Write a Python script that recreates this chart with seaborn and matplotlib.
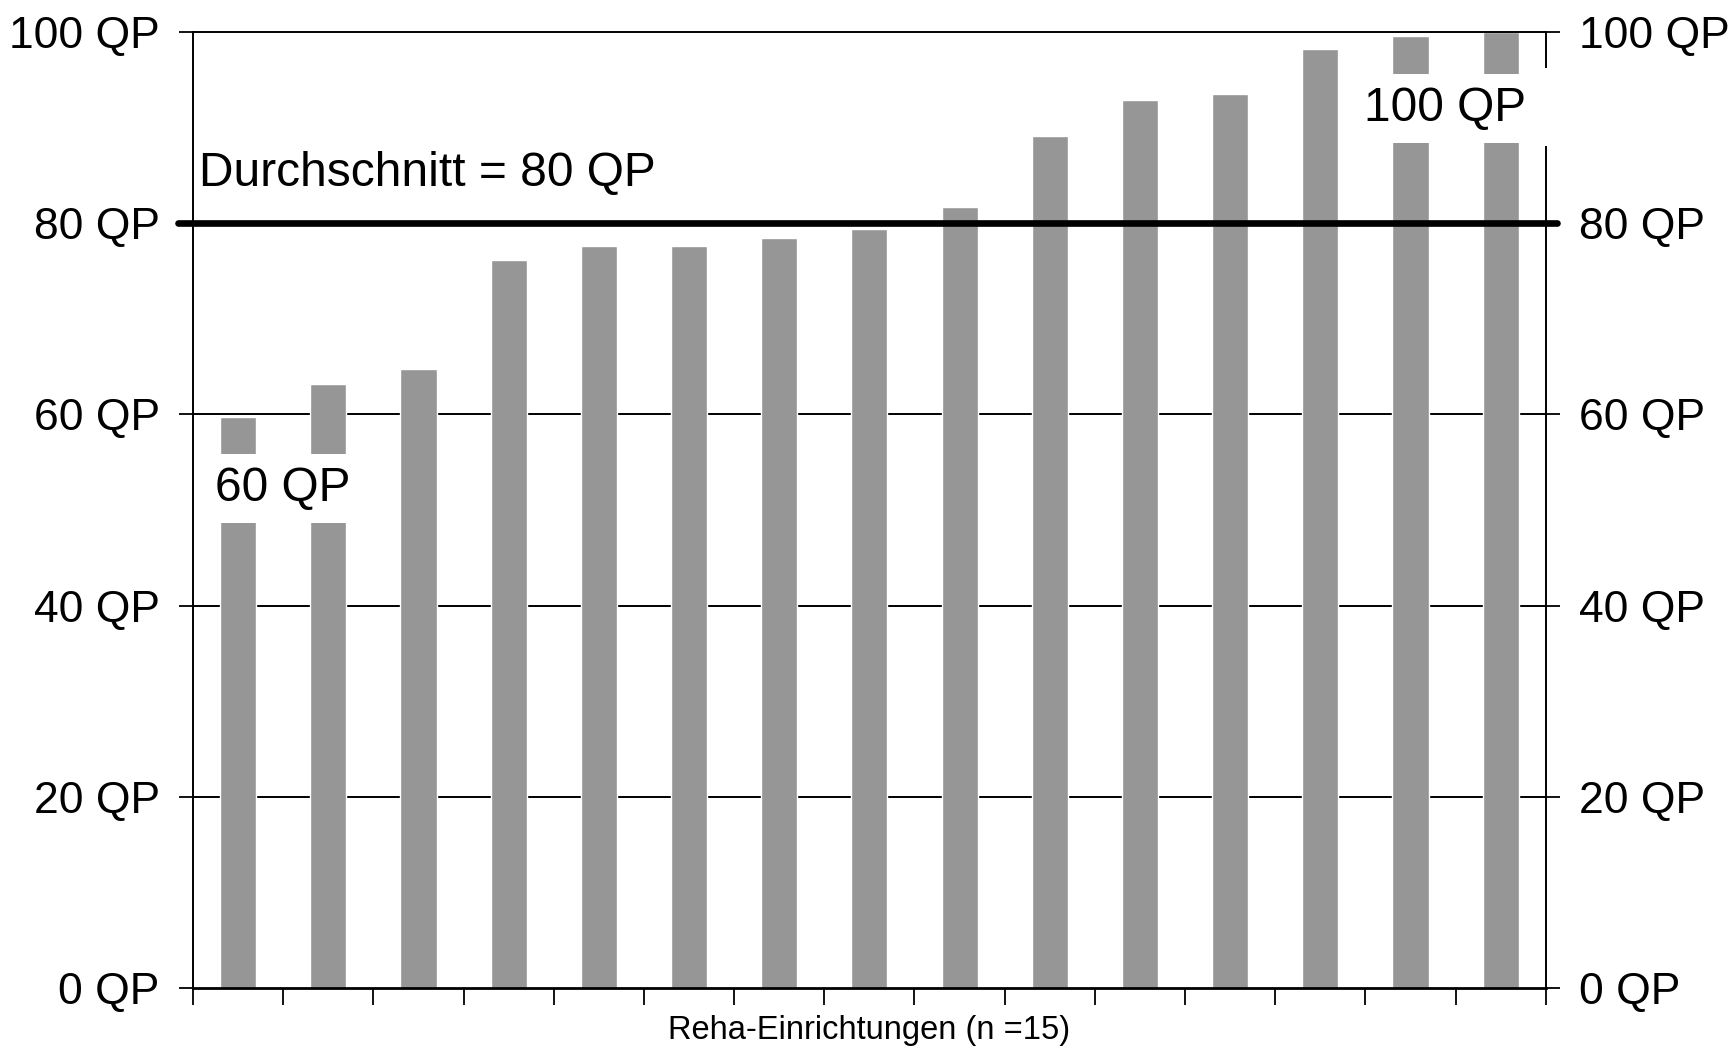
import numpy as np
import pandas as pd
import matplotlib
matplotlib.use('Agg')
import matplotlib.pyplot as plt
import matplotlib.transforms as mtransforms
import matplotlib.patches as mpatches
import seaborn as sns

# ── data ─────────────────────────────────────────────────────────
einrichtungen = [str(i) for i in range(1, 16)]
qp_werte = [59.7, 63.2, 64.7, 76.2, 77.6, 77.6, 78.5, 79.4, 81.7,
            89.1, 92.9, 93.5, 98.2, 99.6, 100.0]
durchschnitt = 80
y_ticks = [0, 20, 40, 60, 80, 100]
y_labels = [f'{v} QP' for v in y_ticks]
x_label = 'Reha-Einrichtungen (n =15)'

df = pd.DataFrame({'einrichtung': einrichtungen, 'qp': qp_werte})

# ── style ────────────────────────────────────────────────────────
sns.set_style('white')
plt.rcParams['font.family'] = ['Liberation Sans', 'DejaVu Sans']
plt.rcParams['text.color'] = 'black'
plt.rcParams['axes.labelcolor'] = 'black'
plt.rcParams['xtick.color'] = 'black'
plt.rcParams['ytick.color'] = 'black'

fig = plt.figure(figsize=(17.31, 10.52), dpi=100)
ax = fig.add_axes([0.1115, 0.0608, 0.7815, 0.9088])

sns.barplot(data=df, x='einrichtung', y='qp', color='#969696',
            width=0.4, saturation=1, ax=ax, zorder=2)

ax.set_ylim(0, 100)
ax.set_xlim(-0.5, len(einrichtungen) - 0.5)
ax.set_yticks(y_ticks)
ax.set_yticklabels(y_labels, fontsize=32)
ax.set_xticks(np.arange(len(einrichtungen) + 1) - 0.5)
ax.set_xticklabels([])
ax.tick_params(axis='x', direction='out', length=12, width=1.3, color='black', bottom=True)
ax.tick_params(axis='y', direction='out', length=10, width=1.3, color='black', pad=14, left=True)

# gridlines behind bars
for v in [20, 40, 60]:
    ax.axhline(v, color='black', linewidth=1.4, zorder=1)

for side in ['left', 'right', 'top', 'bottom']:
    ax.spines[side].set_visible(True)
    ax.spines[side].set_color('black')
    ax.spines[side].set_linewidth(1.4)
ax.spines['bottom'].set_linewidth(2)

ax.set_ylabel('')
ax.set_xlabel(x_label, fontsize=23.5, labelpad=4)

# right axis
ax2 = ax.twinx()
ax2.set_ylim(0, 100)
ax2.set_yticks(y_ticks)
ax2.set_yticklabels(y_labels, fontsize=32)
ax2.tick_params(axis='y', direction='out', length=10, width=1.3, color='black', pad=14, right=True)
for side in ['left', 'right', 'top', 'bottom']:
    ax2.spines[side].set_visible(False)

# average line
ax.axhline(durchschnitt, xmin=-0.011, xmax=1.008, color='black', linewidth=4.8,
           zorder=5, clip_on=False)
ax.text(-0.43, 85.2, f'Durchschnitt = {durchschnitt} QP', fontsize=34.5,
        ha='left', va='center', zorder=6)

# labels with white boxes
box = dict(facecolor='white', edgecolor='none', boxstyle='square,pad=0.25')
ax.text(0.5, 52.2, '60 QP', fontsize=34.5, ha='center', va='center',
        bbox=box, zorder=6)
ax.text(13.38, 92.0, '100 QP', fontsize=34.5, ha='center', va='center',
        bbox=box, zorder=6)
# gap in the right spine behind the "100 QP" label
trans = mtransforms.blended_transform_factory(ax.transAxes, ax.transData)
ax.add_patch(mpatches.Rectangle((0.99, 88.1), 0.02, 8.1, transform=trans,
                                facecolor='white', edgecolor='none',
                                zorder=7, clip_on=False))

fig.savefig('out.png', dpi=100)
